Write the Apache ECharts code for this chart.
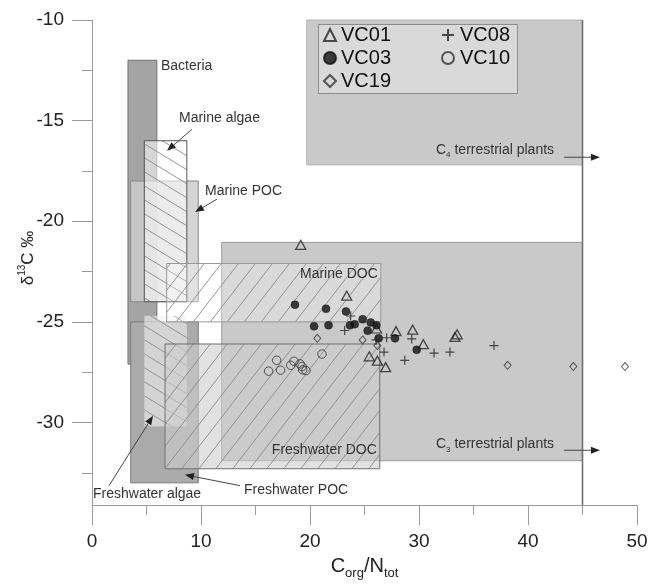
<!DOCTYPE html>
<html>
<head>
<meta charset="utf-8">
<script src="https://cdn.jsdelivr.net/npm/echarts@6/dist/echarts.min.js"></script>
<style>
  html, body { margin: 0; padding: 0; background: #fff; }
  #chart { width: 662px; height: 585px; }
</style>
</head>
<body>
<div id="chart"></div>
<script>
// samples, [C/N, d13C]
const vc01 = [[19.15, -21.17], [23.37, -23.7], [26.1, -25.33], [27.89, -25.46], [29.42, -25.39],
  [30.4, -26.11], [33.3, -25.75], [33.5, -25.62], [25.44, -26.71], [26.18, -26.93], [26.94, -27.25]];
const vc03 = [[18.62, -24.15], [21.47, -24.35], [23.3, -24.48], [24.83, -24.87], [25.57, -25.03],
  [26.1, -25.17], [20.37, -25.22], [21.7, -25.17], [23.67, -25.17], [24.1, -25.12], [25.29, -25.44],
  [26.3, -25.82], [27.8, -25.82], [29.79, -26.39]];
const vc08 = [[23.73, -24.71], [23.18, -25.43], [26.06, -25.9], [27.03, -25.79], [29.33, -25.85],
  [31.38, -26.55], [32.84, -26.5], [36.88, -26.18], [26.79, -26.5], [28.69, -26.91]];
const vc10 = [[21.1, -26.6], [16.94, -26.91], [16.2, -27.45], [17.3, -27.4], [18.23, -27.16],
  [18.53, -26.96], [19.08, -27.09], [19.27, -27.22], [19.33, -27.38], [19.63, -27.42]];
const vc19 = [[20.67, -25.82], [24.83, -25.9], [26.18, -26.18], [38.13, -27.16], [44.16, -27.22], [48.9, -27.22]];

const yTicks = [-30, -25, -20, -15, -10];

// source fields (C/N range, d13C range)
const regionNames = ['C3', 'C4', 'Bacteria', 'Freshwater POC', 'Marine POC', 'Freshwater algae',
  'Marine algae', 'Freshwater DOC', 'Marine DOC'];
const regionCN = [[11.9, 45], [19.7, 45], [3.3, 5.95], [3.55, 9.75], [3.55, 9.75], [4.8, 8.7],
  [4.8, 8.7], [6.7, 26.4], [6.85, 26.5]];
const regionD13C = [[-31.9, -21.05], [-17.2, -10], [-27.1, -12], [-33, -25], [-24, -18], [-30.2, -24.7],
  [-24, -16], [-32.3, -26.1], [-25, -22.1]];
const terrestrialEdge = 45;

// annotations
const noteTexts = ['Bacteria', 'Marine algae', 'Marine POC', 'Marine DOC', 'Freshwater DOC',
  'Freshwater POC', 'Freshwater algae', '{n|C}{s|4}{n| terrestrial plants}', '{n|C}{s|3}{n| terrestrial plants}'];
const notePos = [[6.33, -12.3], [7.98, -14.89], [10.37, -18.51], [19.08, -22.62], [16.5, -31.38],
  [13.94, -33.34], [0.09, -33.58], [42.39, -16.5], [42.39, -31.14]];
const noteAlign = ['left', 'left', 'left', 'left', 'left', 'left', 'left', 'right', 'right'];
const arrowFrom = [null, [9.17, -15.43], [11.47, -18.9], null, null, [13.58, -33.14], [1.56, -33.14], [43.3, -16.82], [43.3, -31.38]];
const arrowTo = [null, [6.88, -16.5], [9.45, -19.54], null, null, [8.53, -32.6], [5.6, -29.67], [46.6, -16.82], [46.6, -31.38]];

function hatch(w, h, forward) {
  const c = document.createElement('canvas');
  c.width = w; c.height = h;
  const g = c.getContext('2d');
  g.strokeStyle = '#8a8a8a';
  g.lineWidth = 0.9;
  g.beginPath();
  [-w, 0, w].forEach(function (dx) {
    if (forward) { g.moveTo(dx - 1, h + h / w); g.lineTo(dx + w + 1, -h / w); }
    else { g.moveTo(dx - 1, -h / w); g.lineTo(dx + w + 1, h + h / w); }
  });
  g.stroke();
  return { image: c, repeat: 'repeat' };
}
const slash = hatch(17, 22, true);
const back = hatch(23, 14, false);

const regionStyle = {
  'C3': { fill: '#c9c9c9', stroke: '#9a9a9a' },
  'C4': { fill: '#c9c9c9', stroke: '#b4b4b4' },
  'Bacteria': { fill: '#a4a4a4', stroke: '#707070' },
  'Freshwater POC': { fill: '#aaaaaa', stroke: '#7a7a7a' },
  'Marine POC': { fill: 'rgba(205,205,205,0.85)', stroke: '#888' },
  'Freshwater algae': { fill: 'rgba(240,240,240,0.6)', hatch: back },
  'Marine algae': { fill: 'rgba(255,255,255,0.55)', stroke: '#555', hatch: back },
  'Freshwater DOC': { fill: 'rgba(205,205,205,0.6)', stroke: '#707070', hatch: slash },
  'Marine DOC': { fill: 'rgba(255,255,255,0.3)', stroke: '#999', hatch: slash }
};

function renderRegion(params, api) {
  const st = regionStyle[regionNames[params.dataIndex]];
  const a = api.coord([api.value(0), api.value(3)]);
  const b = api.coord([api.value(1), api.value(2)]);
  const shape = { x: a[0], y: a[1], width: b[0] - a[0], height: b[1] - a[1] };
  const kids = [{ type: 'rect', shape: shape, style: { fill: st.fill } }];
  if (st.hatch) kids.push({ type: 'rect', shape: shape, style: { fill: st.hatch } });
  if (st.stroke) kids.push({ type: 'rect', shape: shape, style: { fill: null, stroke: st.stroke, lineWidth: 1 } });
  return { type: 'group', children: kids };
}

function renderEdge(params, api) {
  const top = api.coord([api.value(0), -10]);
  const cs = params.coordSys;
  return { type: 'line', shape: { x1: top[0], y1: top[1], x2: top[0], y2: cs.y + cs.height - 18 },
    style: { stroke: '#707070', lineWidth: 1.6 } };
}

const noteRich = {
  n: { fontSize: 14, fontFamily: 'Liberation Sans', fill: '#333', lineHeight: 16, verticalAlign: 'top' },
  s: { fontSize: 8, fontFamily: 'Liberation Sans', fill: '#333', lineHeight: 8, verticalAlign: 'bottom' }
};

function renderNote(params, api) {
  const i = params.dataIndex;
  const p = api.coord([api.value(0), api.value(1)]);
  const kids = [{ type: 'text', x: p[0], y: p[1], style: { text: noteTexts[i], fill: '#333', fontSize: 14,
    fontFamily: 'Liberation Sans', align: noteAlign[i], verticalAlign: 'middle', rich: noteRich } }];
  if (arrowFrom[i]) {
    const a = api.coord(arrowFrom[i]), b = api.coord(arrowTo[i]);
    const dx = b[0] - a[0], dy = b[1] - a[1], len = Math.hypot(dx, dy);
    const ux = dx / len, uy = dy / len, hl = 9, hw = 3.5;
    const bx = b[0] - ux * hl, by = b[1] - uy * hl;
    kids.push({ type: 'line', shape: { x1: a[0], y1: a[1], x2: bx, y2: by }, style: { stroke: '#444', lineWidth: 1 } });
    kids.push({ type: 'polygon', shape: { points: [[b[0], b[1]], [bx - uy * hw, by + ux * hw], [bx + uy * hw, by - ux * hw]] },
      style: { fill: '#222' } });
  }
  return { type: 'group', children: kids };
}

const axisGray = '#9a9a9a';
const hollow = 'rgba(0,0,0,0)';

const chart = echarts.init(document.getElementById('chart'));
chart.setOption({
  animation: false,
  textStyle: { fontFamily: 'Liberation Sans' },
  grid: { left: 92, right: 25, top: 20, bottom: 54 },
  xAxis: {
    type: 'value', min: 0, max: 50, interval: 10, offset: -18,
    axisLine: { lineStyle: { color: axisGray } },
    axisTick: { length: 20, lineStyle: { color: axisGray } },
    minorTick: { show: true, splitNumber: 2, length: 10, lineStyle: { color: axisGray } },
    splitLine: { show: false },
    axisLabel: { margin: 27, fontSize: 19, color: '#222' },
    name: '{n|C}{s|org}{n|/N}{s|tot}', nameLocation: 'middle', nameGap: 50,
    nameTextStyle: { rich: {
      n: { fontSize: 20, color: '#222', lineHeight: 22, verticalAlign: 'top' },
      s: { fontSize: 13, color: '#222', lineHeight: 24, verticalAlign: 'bottom' }
    } }
  },
  yAxis: {
    type: 'value', min: -35, max: -10, interval: 5,
    axisLine: { show: true, lineStyle: { color: axisGray } },
    axisTick: { show: true, length: 20, customValues: yTicks, lineStyle: { color: axisGray } },
    minorTick: { show: true, splitNumber: 2, length: 10, lineStyle: { color: axisGray } },
    splitLine: { show: false },
    axisLabel: { margin: 28, fontSize: 19, color: '#222', customValues: yTicks }
  },
  legend: [
    { data: ['VC01', 'VC03', 'VC19'], orient: 'vertical', left: 323, top: 25, itemWidth: 12, itemHeight: 12,
      itemGap: 3, padding: 0, z: 12, selectedMode: false,
      textStyle: { fontSize: 20, lineHeight: 20, color: '#111' } },
    { data: ['VC08', 'VC10'], orient: 'vertical', left: 441, top: 25, itemWidth: 14, itemHeight: 12,
      itemGap: 3, padding: 0, z: 12, selectedMode: false,
      textStyle: { fontSize: 20, lineHeight: 20, color: '#111' } }
  ],
  graphic: [
    { type: 'rect', left: 318, top: 24, z: 10, shape: { width: 199, height: 69 },
      style: { fill: '#d9d9d9', stroke: '#8c8c8c', lineWidth: 1 } },
    { type: 'text', x: 27, y: 258, rotation: Math.PI / 2, z: 10,
      style: { text: '{n|δ}{p|13}{n|C ‰}', align: 'center', verticalAlign: 'middle',
        rich: {
          n: { fontSize: 17, fontFamily: 'Liberation Sans', fill: '#222', lineHeight: 20, verticalAlign: 'bottom' },
          p: { fontSize: 10, fontFamily: 'Liberation Sans', fill: '#222', lineHeight: 20, verticalAlign: 'top' }
        } } }
  ],
  series: [
    { type: 'custom', name: 'regions', z: 1, silent: true, renderItem: renderRegion,
      encode: { x: [0, 1], y: [2, 3] },
      data: regionNames.map(function (n, i) { return [regionCN[i][0], regionCN[i][1], regionD13C[i][0], regionD13C[i][1]]; }) },
    { type: 'custom', name: 'edge', z: 2, silent: true, renderItem: renderEdge, data: [[terrestrialEdge, -10]] },
    { type: 'custom', name: 'notes', z: 3, silent: true, renderItem: renderNote, data: notePos },
    { name: 'VC01', type: 'scatter', data: vc01, symbol: 'triangle', symbolSize: [10, 9], z: 5,
      itemStyle: { color: hollow, borderColor: '#222', borderWidth: 1.3 } },
    { name: 'VC03', type: 'scatter', data: vc03, symbol: 'circle', symbolSize: 8, z: 5,
      itemStyle: { color: '#111', borderColor: '#111', borderWidth: 0.5 } },
    { name: 'VC08', type: 'scatter', data: vc08, symbol: 'path://M5,0L5,10M0,5L10,5', symbolSize: 9, z: 5,
      itemStyle: { color: hollow, borderColor: '#222', borderWidth: 1.2 } },
    { name: 'VC10', type: 'scatter', data: vc10, symbol: 'circle', symbolSize: 8.5, z: 5,
      itemStyle: { color: hollow, borderColor: '#333', borderWidth: 1 } },
    { name: 'VC19', type: 'scatter', data: vc19, symbol: 'diamond', symbolSize: [7, 8], z: 5,
      itemStyle: { color: hollow, borderColor: '#333', borderWidth: 1 } }
  ]
});
</script>
</body>
</html>
